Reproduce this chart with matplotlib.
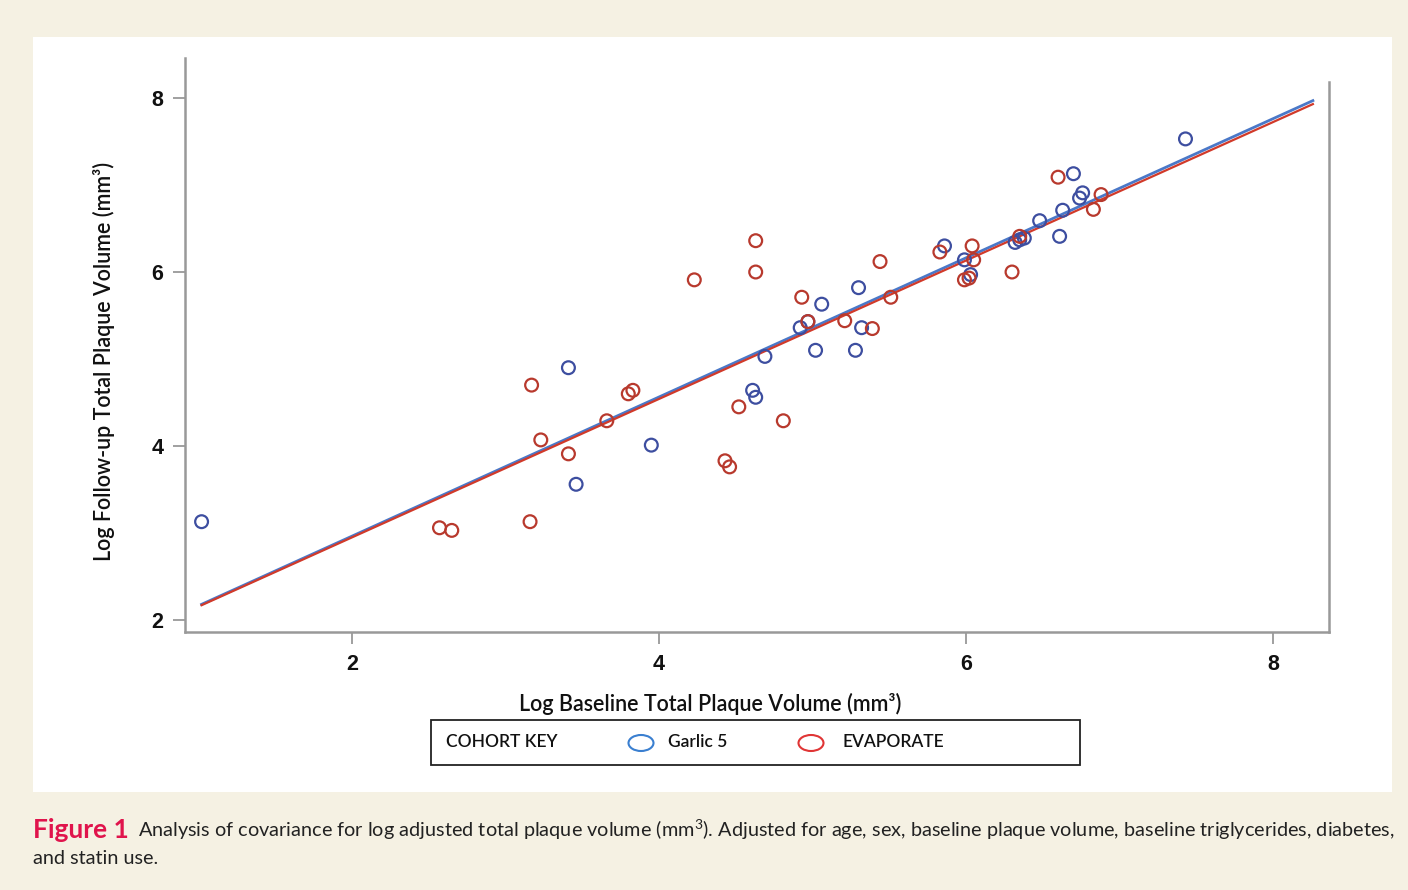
import matplotlib
matplotlib.use("Agg")
import matplotlib.pyplot as plt
from matplotlib.patches import Rectangle, Ellipse

plt.rcParams['font.family'] = ['Lato', 'DejaVu Sans']
plt.rcParams['mathtext.default'] = 'regular'

# Garlic 5 cohort (log baseline, log follow-up)
garlic_x = [1.02, 3.41, 3.46, 3.95, 4.61, 4.63, 4.69, 4.92, 4.97, 5.02, 5.06,
            5.28, 5.30, 5.32, 5.86, 5.99, 6.03, 6.32, 6.35, 6.38, 6.48, 6.61,
            6.63, 6.70, 6.74, 6.76, 7.43]
garlic_y = [3.13, 4.90, 3.56, 4.01, 4.64, 4.56, 5.03, 5.36, 5.43, 5.10, 5.63,
            5.10, 5.82, 5.36, 6.30, 6.14, 5.97, 6.34, 6.37, 6.39, 6.59, 6.41,
            6.71, 7.13, 6.85, 6.91, 7.53]

# EVAPORATE cohort
evap_x = [2.57, 2.65, 3.16, 3.17, 3.23, 3.41, 3.66, 3.80, 3.83, 4.23, 4.43,
          4.46, 4.52, 4.63, 4.63, 4.81, 4.93, 4.97, 5.21, 5.39, 5.44, 5.51,
          5.83, 5.99, 6.02, 6.04, 6.05, 6.30, 6.35, 6.60, 6.83, 6.88]
evap_y = [3.06, 3.03, 3.13, 4.70, 4.07, 3.91, 4.29, 4.60, 4.64, 5.91, 3.83,
          3.76, 4.45, 6.36, 6.00, 4.29, 5.71, 5.43, 5.44, 5.35, 6.12, 5.71,
          6.23, 5.91, 5.93, 6.30, 6.14, 6.00, 6.41, 7.09, 6.72, 6.89]

# fitted lines (end points)
garlic_fit_x = [1.02, 8.26]
garlic_fit_y = [2.18, 7.97]
evap_fit_x = [1.02, 8.26]
evap_fit_y = [2.17, 7.93]

xticks = [2, 4, 6, 8]
yticks = [2, 4, 6, 8]

fig = plt.figure(figsize=(14.08, 8.90), dpi=100)
fig.patch.set_facecolor('#f5f1e3')
W, H = 1408, 890

# white panel behind the plot
fig.add_artist(Rectangle((33 / W, 1 - 792 / H), (1392 - 33) / W, (792 - 37) / H,
                         transform=fig.transFigure, facecolor='white',
                         edgecolor='none', zorder=0))

ax = fig.add_axes([185 / W, 1 - 632 / H, (1329 - 185) / W, (632 - 58) / H])
ax.set_facecolor('white')
ax.set_zorder(1)

ax.plot(garlic_fit_x, garlic_fit_y, color='#4a78c8', lw=2.0, zorder=2)
ax.plot(evap_fit_x, evap_fit_y, color='#d13a2a', lw=1.6, zorder=3)
ax.scatter(garlic_x, garlic_y, s=85, facecolors='none', edgecolors='#3d4ea0',
           linewidths=1.6, zorder=4)
ax.scatter(evap_x, evap_y, s=85, facecolors='none', edgecolors='#b8392d',
           linewidths=1.6, zorder=4)

ax.set_xlim(0.912, 8.365)
ax.set_ylim(1.862, 8.46)
ax.set_xticks(xticks)
ax.set_yticks(yticks)
ax.tick_params(direction='out', length=8.5, width=1.3, color='#999999',
               labelsize=15.5, pad=7, labelcolor='#111111')
for lab in ax.get_xticklabels() + ax.get_yticklabels():
    lab.set_family('Liberation Sans')
    lab.set_fontweight('bold')
ax.spines['top'].set_visible(False)
for s in ['left', 'bottom', 'right']:
    ax.spines[s].set_color('#999999')
    ax.spines[s].set_linewidth(1.8)
ax.spines['right'].set_bounds(1.862, 8.184)

fig.text(104 / W, 1 - 361 / H, 'Log Follow-up Total Plaque Volume (mm³)',
         rotation=90, ha='center', va='center', fontsize=15.5, color='#111111',
         fontweight='semibold')
fig.text(710 / W, 1 - 704 / H, 'Log Baseline Total Plaque Volume (mm³)',
         ha='center', va='center', fontsize=15.5, color='#111111',
         fontweight='semibold')

# cohort key box
fig.add_artist(Rectangle((431 / W, 1 - 765 / H), (1080 - 431) / W, 45 / H,
                         transform=fig.transFigure, facecolor='white',
                         edgecolor='#222222', lw=1.3, zorder=2))
fig.text(446 / W, 1 - 742 / H, 'COHORT KEY', ha='left', va='center',
         fontsize=12.5, color='#111111', fontweight='semibold')
fig.add_artist(Ellipse((6.41, (H - 743) / 100), 0.25, 0.16,
                       transform=fig.dpi_scale_trans, facecolor='none',
                       edgecolor='#3a7fd0', lw=1.5, zorder=3))
fig.text(668 / W, 1 - 742 / H, 'Garlic 5', ha='left', va='center',
         fontsize=12.5, color='#111111', fontweight='semibold')
fig.add_artist(Ellipse((8.11, (H - 743) / 100), 0.25, 0.16,
                       transform=fig.dpi_scale_trans, facecolor='none',
                       edgecolor='#e03535', lw=1.5, zorder=3))
fig.text(843 / W, 1 - 742 / H, 'EVAPORATE', ha='left', va='center',
         fontsize=12.5, color='#111111', fontweight='semibold')

# caption
fig.text(33 / W, 1 - 830 / H, 'Figure 1', ha='left', va='center',
         fontsize=19, fontweight='bold', color='#e0144c')
fig.text(138 / W, 1 - 830 / H,
         'Analysis of covariance for log adjusted total plaque volume (mm$^{3}$). '
         'Adjusted for age, sex, baseline plaque volume, baseline triglycerides, diabetes,',
         ha='left', va='center', fontsize=14.3, color='#222222')
fig.text(33 / W, 1 - 858 / H, 'and statin use.', ha='left', va='center',
         fontsize=14.3, color='#222222')

fig.savefig('out.png', dpi=100, facecolor=fig.get_facecolor())
